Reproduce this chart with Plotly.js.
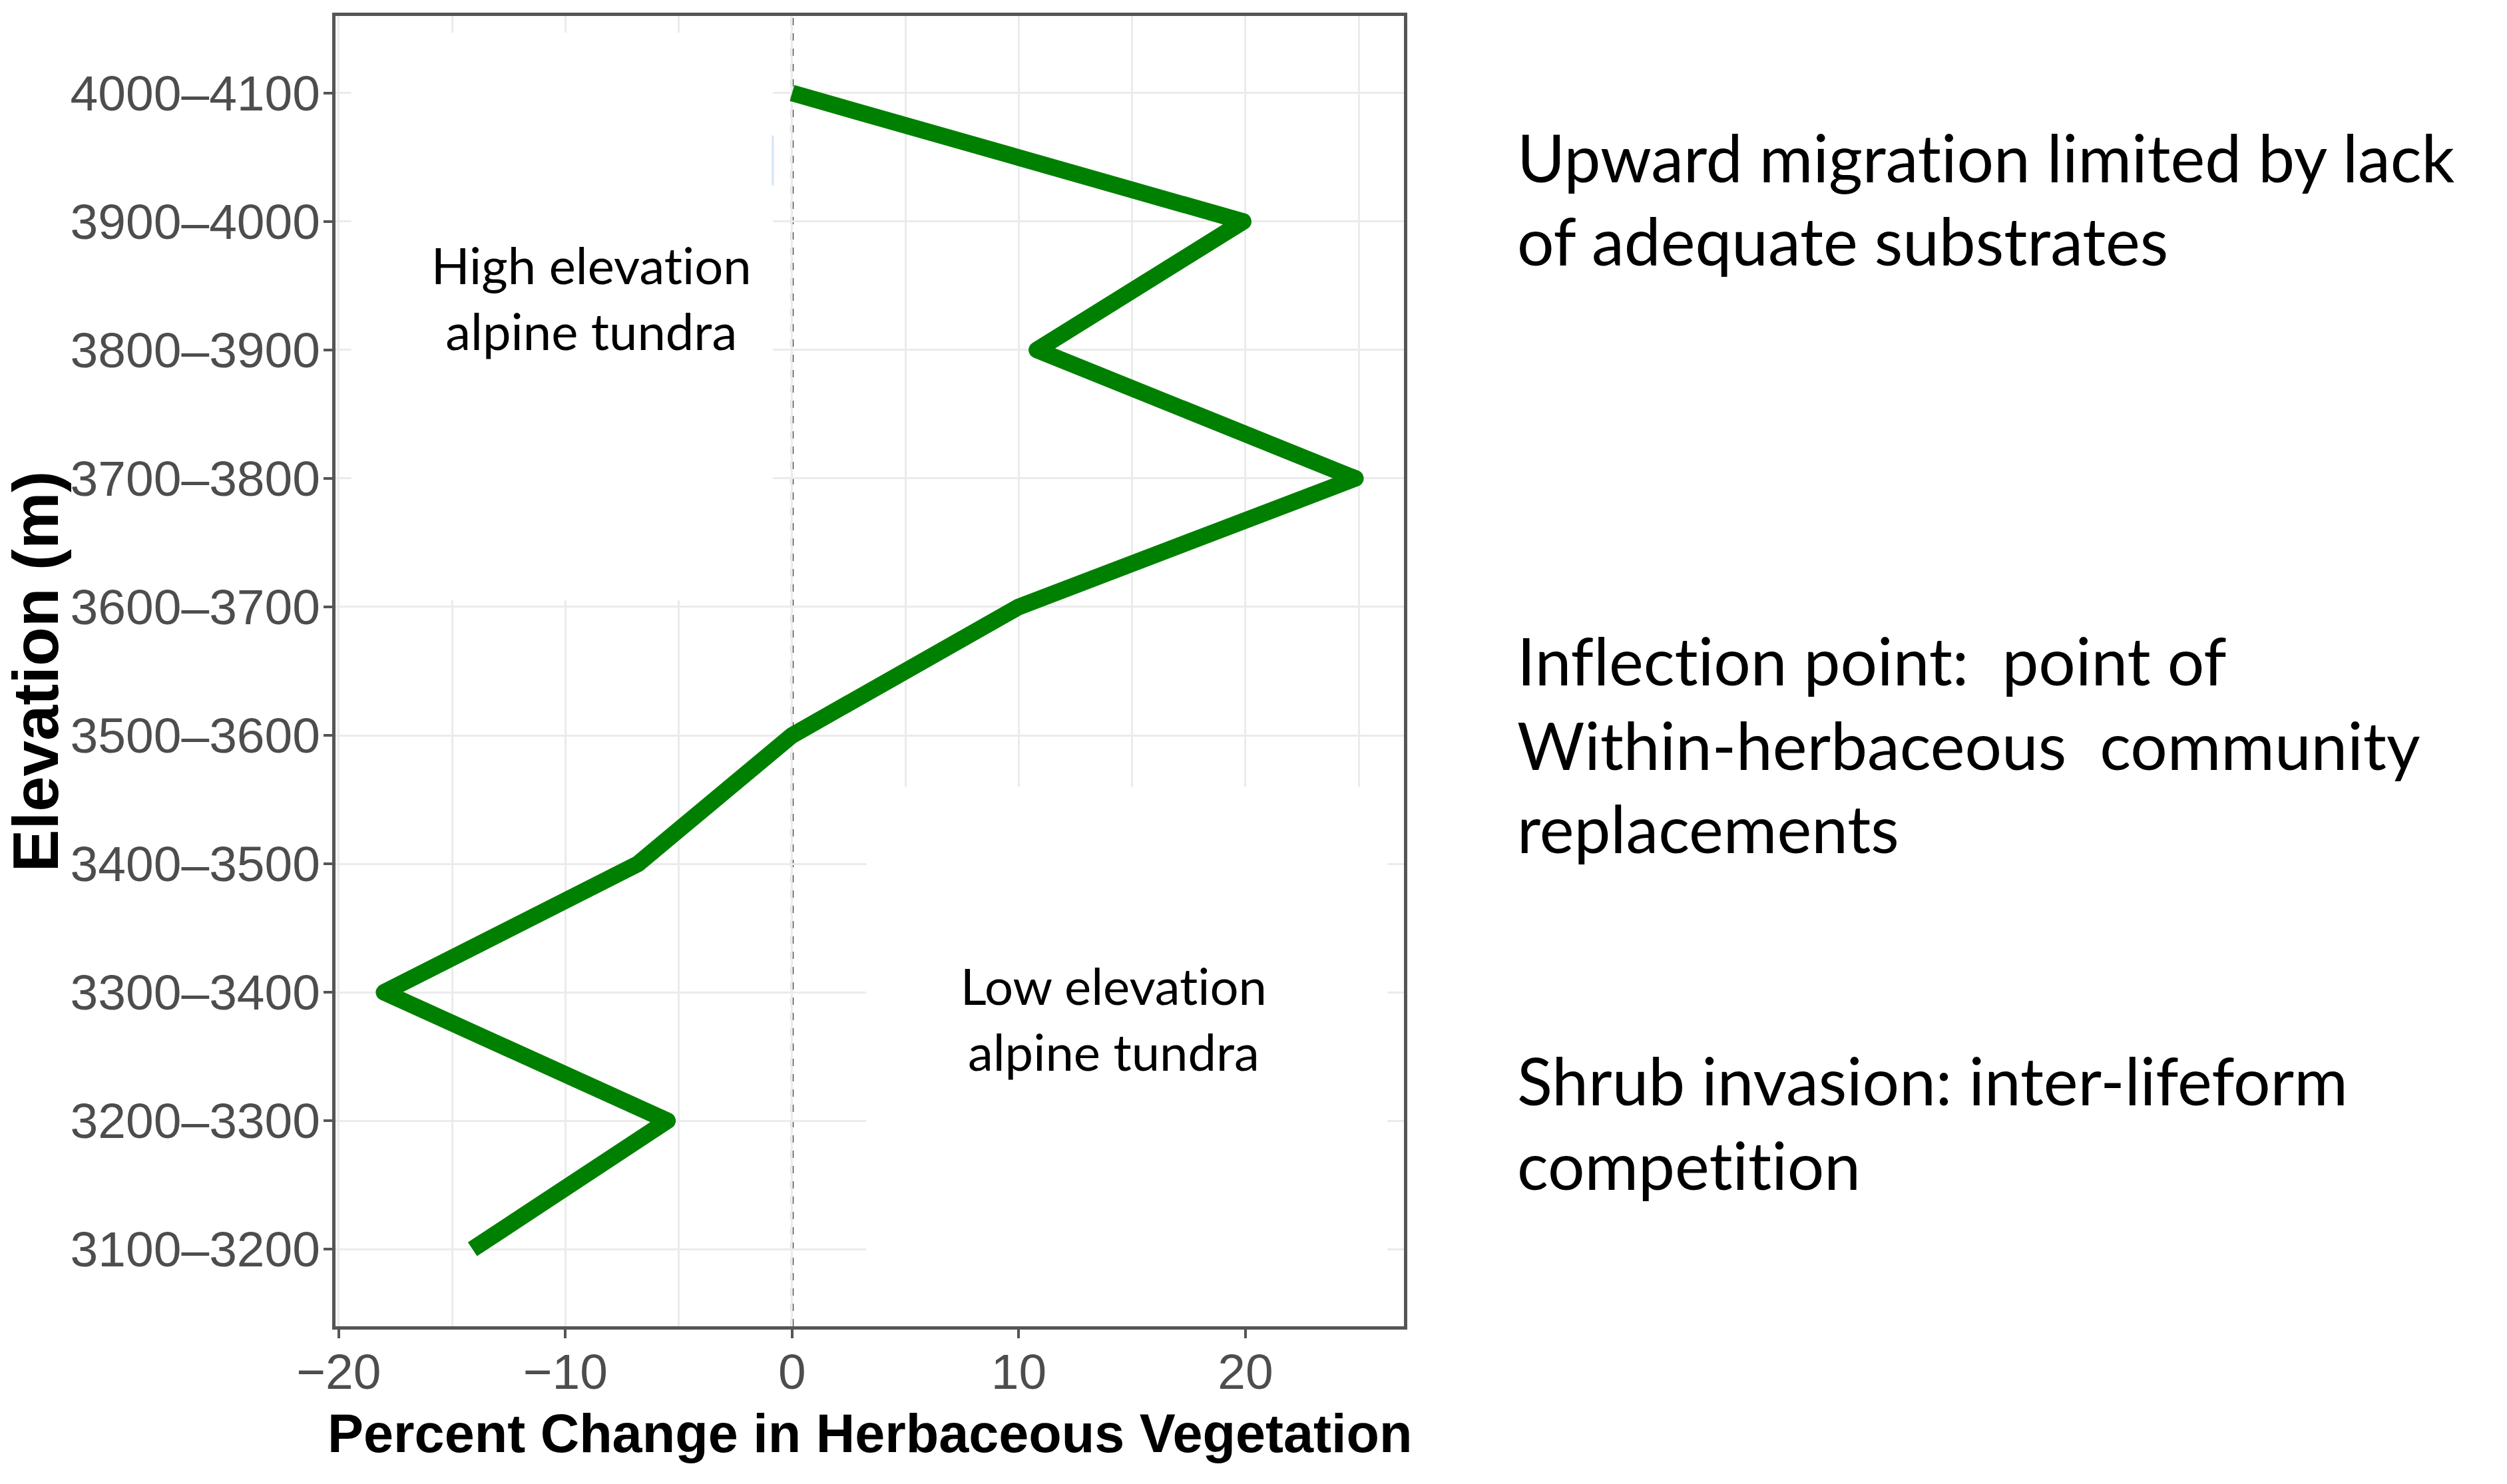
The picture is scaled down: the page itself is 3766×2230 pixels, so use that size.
<!DOCTYPE html>
<html>
<head>
<meta charset="utf-8">
<script src="https://cdn.plot.ly/plotly-3.0.1.min.js"></script>
<style>
  html, body { margin: 0; padding: 0; background: #ffffff; }
  #chart { width: 3766px; height: 2230px; }
  #chart text, #chart tspan {
    font-variant-ligatures: none !important;
    font-feature-settings: "liga" 0, "clig" 0, "dlig" 0 !important;
  }
</style>
</head>
<body>
<div id="chart"></div>
<script>
// ---- data ----
const elevationBands = ["3100–3200", "3200–3300", "3300–3400", "3400–3500", "3500–3600",
                        "3600–3700", "3700–3800", "3800–3900", "3900–4000", "4000–4100"];
const percentChange  = [-14.1, -5.5, -18.0, -6.8, 0.0, 10.0, 24.85, 10.8, 19.9, 0.0];
const xTickValues    = [-20, -10, 0, 10, 20];
const xTickLabels    = ["−20", "−10", "0", "10", "20"];

const xTitle = "Percent Change in Herbaceous Vegetation";
const yTitle = "Elevation (m)";
const highLabel = ["High elevation", "alpine tundra"];
const lowLabel  = ["Low elevation", "alpine tundra"];
const sideNotes = [
  ["Upward migration limited by lack", "of adequate substrates"],
  ["Inflection point:  point of", "Within-herbaceous  community", "replacements"],
  ["Shrub invasion: inter-lifeform", "competition"]
];

// ---- layout geometry ----
const W = 3766, H = 2230;
const plotL = 504, plotR = 2109, plotT = 24, plotB = 1993;
const plotW = plotR - plotL, plotH = plotB - plotT;
const paperX = px => (px - plotL) / plotW;
const paperY = py => (plotB - py) / plotH;

const xMin = Math.min(...percentChange), xMax = Math.max(...percentChange);
const xPad = (xMax - xMin) * 0.05;

const trace = {
  type: "scatter",
  mode: "lines",
  x: percentChange,
  y: elevationBands,
  line: { color: "#008000", width: 25 },
  hoverinfo: "skip",
  showlegend: false
};

const tickFont  = { family: "Liberation Sans, Arial, sans-serif", size: 75, color: "#4D4D4D" };
const titleFont = { family: "Liberation Sans, Arial, sans-serif", color: "#000000", weight: "bold" };
const noteFont  = { family: "Lato, Open Sans, sans-serif", size: 98, color: "#000000" };
const boxFont   = { family: "Lato, Open Sans, sans-serif", size: 76, color: "#000000" };

const annotations = [
  { xref: "paper", yref: "paper", x: 0.5, y: paperY(2154), text: xTitle, showarrow: false,
    font: Object.assign({ size: 81 }, titleFont), xanchor: "center", yanchor: "middle" },
  { xref: "paper", yref: "paper", x: paperX(53), y: 0.5, text: yTitle, showarrow: false, textangle: -90,
    font: Object.assign({ size: 96 }, titleFont), xanchor: "center", yanchor: "middle" },
  { xref: "x", yref: "y", x: -8.86, y: 7.41, text: highLabel.join("<br>"), showarrow: false,
    font: boxFont, xanchor: "center", yanchor: "middle", align: "center" },
  { xref: "x", yref: "y", x: 14.2, y: 1.80, text: lowLabel.join("<br>"), showarrow: false,
    font: boxFont, xanchor: "center", yanchor: "middle", align: "center" }
];
const notePixelY = [[236, 361], [992, 1119, 1244], [1623, 1750]];
sideNotes.forEach((block, b) => {
  block.forEach((line, i) => {
    annotations.push({ xref: "paper", yref: "paper", x: paperX(2277), y: paperY(notePixelY[b][i]),
      text: line, showarrow: false, font: noteFont, xanchor: "left", yanchor: "middle", align: "left" });
  });
});

const shapes = [
  // white label boxes that hide the grid
  { type: "rect", xref: "x", yref: "y", x0: -19.45, x1: -0.85, y0: 5.05, y1: 9.47,
    fillcolor: "#ffffff", line: { width: 0 }, layer: "between" },
  { type: "rect", xref: "x", yref: "y", x0: 3.27, x1: 26.27, y0: -0.6, y1: 3.60,
    fillcolor: "#ffffff", line: { width: 0 }, layer: "between" },
  // faint edge of the text box
  { type: "line", xref: "x", yref: "y", x0: -0.85, x1: -0.85, y0: 8.28, y1: 8.67,
    line: { color: "#d4e4f7", width: 3 }, layer: "between" },
  // dashed reference line at zero
  { type: "line", xref: "x", yref: "paper", x0: 0, x1: 0, y0: 0, y1: 1,
    line: { color: "#000000", width: 4, dash: "11px,12px" }, layer: "between" }
];

const layout = {
  width: W, height: H,
  paper_bgcolor: "#ffffff", plot_bgcolor: "#ffffff",
  margin: { l: plotL, r: W - plotR, t: plotT, b: H - plotB, pad: 0 },
  showlegend: false,
  xaxis: {
    range: [xMin - xPad, xMax + xPad],
    tickvals: xTickValues, ticktext: xTickLabels,
    showgrid: true, gridcolor: "#EBEBEB", gridwidth: 3,
    minor: { dtick: 5, tick0: 0, showgrid: true, gridcolor: "#EBEBEB", gridwidth: 3, ticks: "" },
    zeroline: false,
    showline: true, mirror: true, linecolor: "#555555", linewidth: 5,
    ticks: "outside", ticklen: 13, tickwidth: 4, tickcolor: "#555555",
    tickfont: tickFont, ticklabelstandoff: -14,
    automargin: false
  },
  yaxis: {
    type: "category",
    categoryorder: "array", categoryarray: elevationBands,
    range: [-0.6, elevationBands.length - 0.4],
    showgrid: true, gridcolor: "#EBEBEB", gridwidth: 3,
    zeroline: false,
    showline: true, mirror: true, linecolor: "#555555", linewidth: 5,
    ticks: "outside", ticklen: 13, tickwidth: 4, tickcolor: "#555555",
    tickfont: tickFont, ticklabelstandoff: -10,
    automargin: false
  },
  annotations: annotations,
  shapes: shapes
};

Plotly.newPlot("chart", [trace], layout, { staticPlot: true, displayModeBar: false }).then(() => {
  document.querySelectorAll(".scatterlayer .js-line").forEach(p => {
    p.style.strokeLinejoin = "round";
  });
});
</script>
</body>
</html>
